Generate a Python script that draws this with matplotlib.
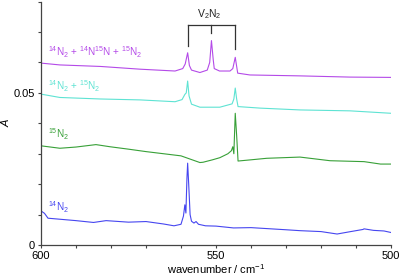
import matplotlib
matplotlib.use("Agg")
import matplotlib.pyplot as plt
from matplotlib.ticker import MultipleLocator

plt.rcParams['font.family'] = ['Liberation Sans', 'DejaVu Sans']
plt.rcParams['mathtext.fontset'] = 'custom'
plt.rcParams['mathtext.rm'] = 'Liberation Sans'
plt.rcParams['mathtext.it'] = 'Liberation Sans:italic'

# ---- data ----
wn_14 = [600, 599, 598, 595, 590, 585, 581.4, 575, 570, 565, 562, 560, 559.3, 558.9, 558.6,
         558.3, 558.1, 557.8, 557.4, 557.0, 556.3, 555.7, 555.0, 553, 550, 545, 540, 530,
         526, 520, 515.4, 512, 508, 507.7, 505, 502, 500]
a_14 = [0.0112, 0.0104, 0.0088, 0.0085, 0.0080, 0.0074, 0.0080, 0.0075, 0.0077, 0.0069, 0.0063,
        0.0068, 0.0095, 0.0132, 0.0105, 0.0220, 0.0269, 0.0200, 0.0100, 0.0078, 0.0072, 0.0077,
        0.0068, 0.0063, 0.0062, 0.0056, 0.0057, 0.0050, 0.0047, 0.0044, 0.0036, 0.0043, 0.0051,
        0.0053, 0.0048, 0.0046, 0.0041]

wn_15 = [600, 594.6, 590, 584.3, 580.3, 575, 570, 565, 560, 554.6, 553.7, 551, 548.9, 546.6,
         545.6, 545.2, 544.9, 544.5, 544.1, 543.7, 540, 535.5, 526, 517.4, 507.7, 503, 500]
a_15 = [0.0326, 0.0318, 0.0322, 0.0330, 0.0323, 0.0315, 0.0307, 0.0300, 0.0293, 0.0271, 0.0272,
        0.0280, 0.0287, 0.0300, 0.0310, 0.0323, 0.0300, 0.0433, 0.0360, 0.0276, 0.0280, 0.0285,
        0.0289, 0.0277, 0.0274, 0.0266, 0.0266]

wn_mix2 = [600, 594.6, 583, 571.7, 561.7, 559.7, 558.9, 558.5, 558.1, 557.7, 557.0, 554.6,
           548.9, 545.4, 544.9, 544.5, 544.1, 543.7, 537.4, 526, 511.7, 500]
a_mix2 = [0.0496, 0.0485, 0.0480, 0.0477, 0.0471, 0.0478, 0.0495, 0.0500, 0.0539, 0.0490,
          0.0463, 0.0453, 0.0453, 0.0464, 0.0480, 0.0516, 0.0480, 0.0455, 0.0450, 0.0444,
          0.0441, 0.0433]

wn_mix3 = [600, 594.6, 583, 571.7, 561.7, 559.5, 558.8, 558.1, 557.6, 557.0, 554.6, 552.5,
           551.8, 551.3, 550.8, 550.5, 549, 546, 545.2, 544.5, 543.8, 540.3, 526, 511.7, 500]
a_mix3 = [0.0598, 0.0592, 0.0587, 0.0578, 0.0572, 0.0580, 0.0595, 0.0632, 0.0590, 0.0575,
          0.0567, 0.0575, 0.0600, 0.0672, 0.0610, 0.0580, 0.0572, 0.0572, 0.0580, 0.0617,
          0.0565, 0.0559, 0.0556, 0.0552, 0.0551]

series_labels = [r'$^{14}$N$_2$', r'$^{15}$N$_2$', r'$^{14}$N$_2$ + $^{15}$N$_2$',
                 r'$^{14}$N$_2$ + $^{14}$N$^{15}$N + $^{15}$N$_2$']
colors = ['#4646f0', '#38a038', '#5ee3d3', '#b44ae8']
label_y = [0.0125, 0.0365, 0.0522, 0.0633]

v2n2_peaks = [558.1, 551.3, 544.5]
bracket_bottoms = [0.0655, 0.0697, 0.0645]
bracket_top = 0.0723

# ---- figure ----
fig = plt.figure(figsize=(4.0, 2.79), dpi=100)
ax = fig.add_axes([0.1025, 0.122, 0.875, 0.872])

for wn, a, c in zip([wn_14, wn_15, wn_mix2, wn_mix3], [a_14, a_15, a_mix2, a_mix3], colors):
    ax.plot(wn, a, color=c, lw=0.8)

for lab, y, c in zip(series_labels, label_y, colors):
    ax.text(598, y, lab, color=c, fontsize=7.2, va='center', ha='left')

# V2N2 bracket
ax.plot([v2n2_peaks[0], v2n2_peaks[-1]], [bracket_top, bracket_top], color='#333333', lw=0.9)
for p, b in zip(v2n2_peaks, bracket_bottoms):
    ax.plot([p, p], [b, bracket_top], color='#333333', lw=0.9)
ax.text(v2n2_peaks[1] + 0.5, 0.0758, r'V$_2$N$_2$', fontsize=7.5, ha='center', va='center', color='#222222')

ax.set_xlim(600, 500)
ax.set_ylim(0, 0.08)
ax.xaxis.set_minor_locator(MultipleLocator(10))
ax.yaxis.set_minor_locator(MultipleLocator(0.01))
ax.set_yticks([0, 0.05])
ax.set_yticklabels(['0', '0.05'])
ax.set_xticks([600, 550, 500])
ax.set_xticklabels(['600', '550', '500'])

for s in ['top', 'right']:
    ax.spines[s].set_visible(False)
for s in ['left', 'bottom']:
    ax.spines[s].set_color('#444444')
    ax.spines[s].set_linewidth(0.9)

ax.tick_params(which='both', direction='out', length=2.5, width=0.8, color='#444444',
               labelsize=8, pad=2)

ax.set_xlabel(r'wavenumber / cm$^{-1}$', fontsize=8, labelpad=1)
ax.set_ylabel('A', fontsize=8, style='italic')
ax.yaxis.set_label_coords(-0.085, 0.5)

fig.savefig('out.png', dpi=100)
